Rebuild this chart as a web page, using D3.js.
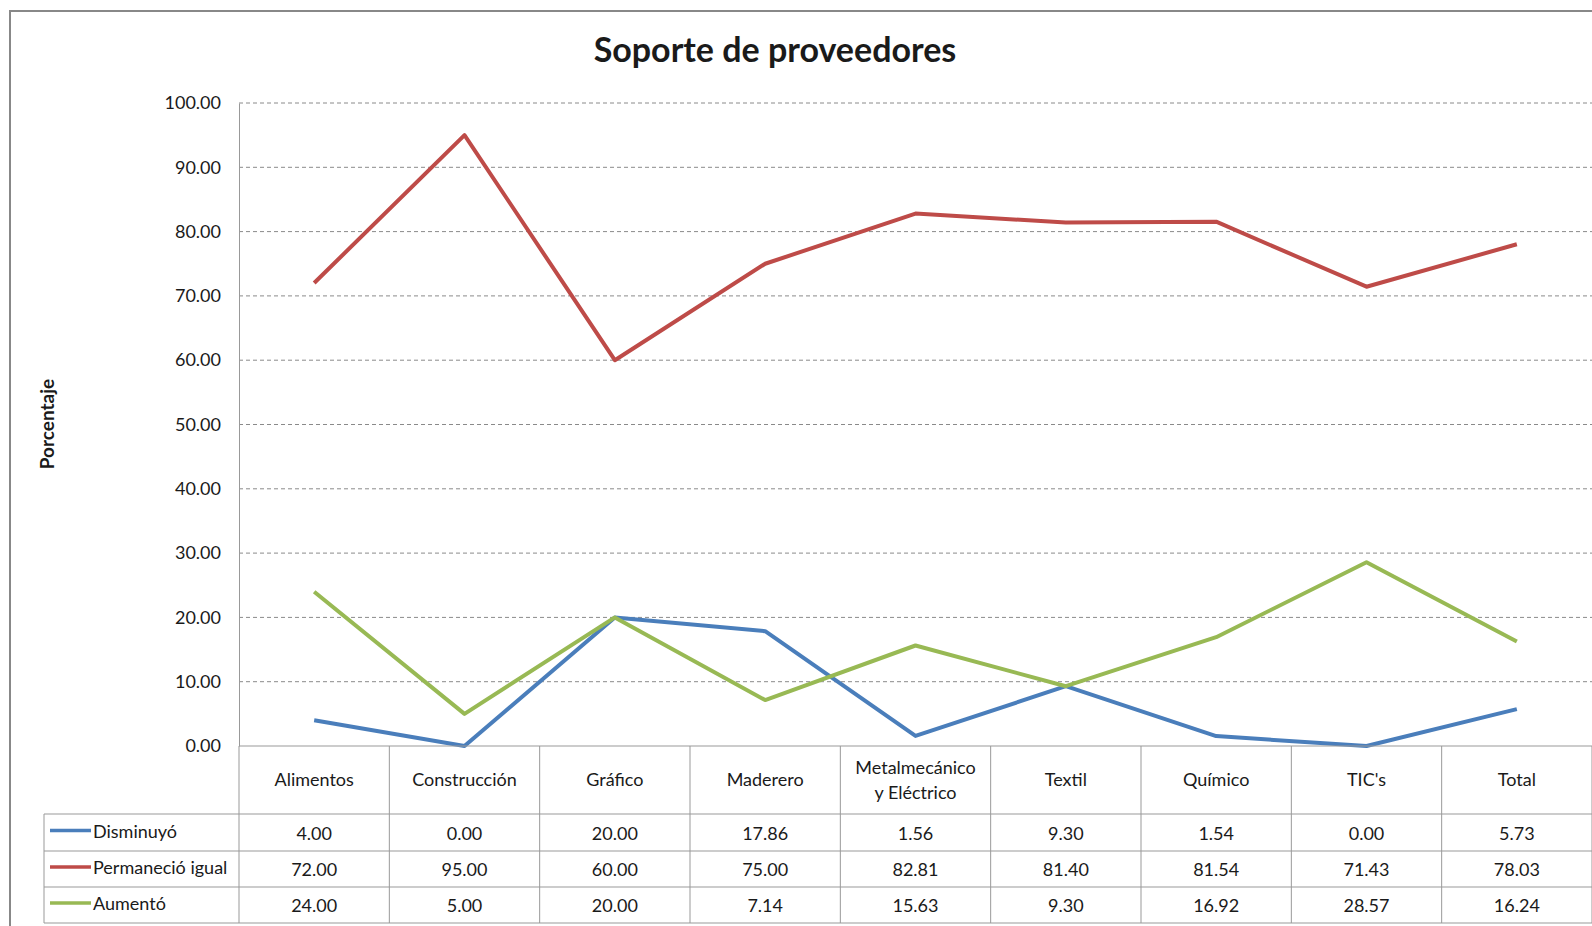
<!DOCTYPE html>
<html>
<head>
<meta charset="utf-8">
<script src="https://cdn.jsdelivr.net/npm/d3@7"></script>
<style>
  body { margin: 0; background: #fff; }
  svg text { font-family: Lato, "Open Sans", sans-serif; fill: #1a1a1a; }
</style>
</head>
<body>
<div id="chart"></div>
<script>
// ---- data ----
const categories = ["Alimentos", "Construcción", "Gráfico", "Maderero", "Metalmecánico|y Eléctrico", "Textil", "Químico", "TIC's", "Total"];
const disminuyo = [4.00, 0.00, 20.00, 17.86, 1.56, 9.30, 1.54, 0.00, 5.73];
const permanecio = [72.00, 95.00, 60.00, 75.00, 82.81, 81.40, 81.54, 71.43, 78.03];
const aumento = [24.00, 5.00, 20.00, 7.14, 15.63, 9.30, 16.92, 28.57, 16.24];
const seriesNames = ["Disminuyó", "Permaneció igual", "Aumentó"];
const yTicks = [0, 10, 20, 30, 40, 50, 60, 70, 80, 90, 100];

const width = 1592, height = 926;
const colors = ["#4a7ebb", "#be4b48", "#98b954"];
const series = [disminuyo, permanecio, aumento];

const plotLeft = 239, plotRight = 1592;
const plotTop = 103, plotBottom = 746;
const legendLeft = 44;
const rowLines = [814, 851, 887, 923];

const svg = d3.select("#chart").append("svg")
    .attr("width", width).attr("height", height);

// outer frame
svg.append("rect")
    .attr("x", 10).attr("y", 11)
    .attr("width", width + 20).attr("height", height + 20)
    .attr("fill", "none").attr("stroke", "#888").attr("stroke-width", 2);

// title
svg.append("text")
    .attr("x", 775).attr("y", 62)
    .attr("text-anchor", "middle")
    .style("font-size", "34px").style("font-weight", "bold")
    .text("Soporte de proveedores");

// scales
const x = d3.scaleBand().domain(d3.range(categories.length)).range([plotLeft, plotRight]);
const y = d3.scaleLinear().domain([0, 100]).range([plotBottom, plotTop]);

// gridlines
svg.append("g").selectAll("line")
    .data(yTicks.filter(d => d > 0)).enter()
    .append("line")
    .attr("x1", plotLeft).attr("x2", plotRight)
    .attr("y1", d => y(d)).attr("y2", d => y(d))
    .attr("stroke", "#8a8a8a").attr("stroke-width", 1)
    .attr("stroke-dasharray", "4,3");

// y axis
const yAxis = svg.append("g")
    .attr("transform", `translate(${plotLeft},0)`)
    .call(d3.axisLeft(y).tickValues(yTicks).tickFormat(d3.format(".2f")).tickSize(0).tickPadding(18));
yAxis.select(".domain").attr("stroke", "#999");
yAxis.selectAll("text").style("font-size", "18px").attr("fill", "#1a1a1a")
    .style("font-family", "Lato, sans-serif");

// y axis label
svg.append("text")
    .attr("transform", "translate(54,424) rotate(-90)")
    .attr("text-anchor", "middle")
    .style("font-size", "19px").style("font-weight", "bold")
    .text("Porcentaje");

// lines
const line = d3.line()
    .x((d, i) => x(i) + x.bandwidth() / 2)
    .y(d => y(d));

svg.append("g").selectAll("path")
    .data(series).enter()
    .append("path")
    .attr("d", d => line(d))
    .attr("fill", "none")
    .attr("stroke", (d, i) => colors[i])
    .attr("stroke-width", 4)
    .attr("stroke-linejoin", "round");

// data table
const table = svg.append("g").attr("stroke", "#999").attr("stroke-width", 1);
// top of header (x axis)
table.append("line").attr("x1", plotLeft).attr("x2", plotRight)
    .attr("y1", plotBottom).attr("y2", plotBottom);
// horizontal row lines
table.selectAll(".hrow").data(rowLines).enter()
    .append("line")
    .attr("x1", legendLeft).attr("x2", plotRight)
    .attr("y1", d => d).attr("y2", d => d);
// vertical lines
table.selectAll(".vcol").data(d3.range(categories.length + 1)).enter()
    .append("line")
    .attr("x1", i => x(i) !== undefined ? x(i) : plotRight)
    .attr("x2", i => x(i) !== undefined ? x(i) : plotRight)
    .attr("y1", plotBottom).attr("y2", rowLines[3]);
table.append("line").attr("x1", legendLeft).attr("x2", legendLeft)
    .attr("y1", rowLines[0]).attr("y2", rowLines[3]);

// header text
const header = svg.append("g");
categories.forEach((c, i) => {
    const parts = c.split("|");
    const cx = x(i) + x.bandwidth() / 2;
    const t = header.append("text")
        .attr("text-anchor", "middle")
        .style("font-size", "18px");
    if (parts.length === 1) {
        t.attr("x", cx).attr("y", 786).text(c);
    } else {
        t.append("tspan").attr("x", cx).attr("y", 774).text(parts[0]);
        t.append("tspan").attr("x", cx).attr("y", 799).text(parts[1]);
    }
});

// rows
series.forEach((s, r) => {
    const yMid = (rowLines[r] + rowLines[r + 1]) / 2;
    svg.append("line")
        .attr("x1", 50).attr("x2", 91)
        .attr("y1", yMid - 2).attr("y2", yMid - 2)
        .attr("stroke", colors[r]).attr("stroke-width", 3.5);
    svg.append("text")
        .attr("x", 93).attr("y", yMid + 5)
        .style("font-size", "18px")
        .text(seriesNames[r]);
    svg.append("g").selectAll("text")
        .data(s).enter()
        .append("text")
        .attr("x", (d, i) => x(i) + x.bandwidth() / 2)
        .attr("y", yMid + 7)
        .attr("text-anchor", "middle")
        .style("font-size", "18px")
        .text(d => d3.format(".2f")(d));
});
</script>
</body>
</html>
